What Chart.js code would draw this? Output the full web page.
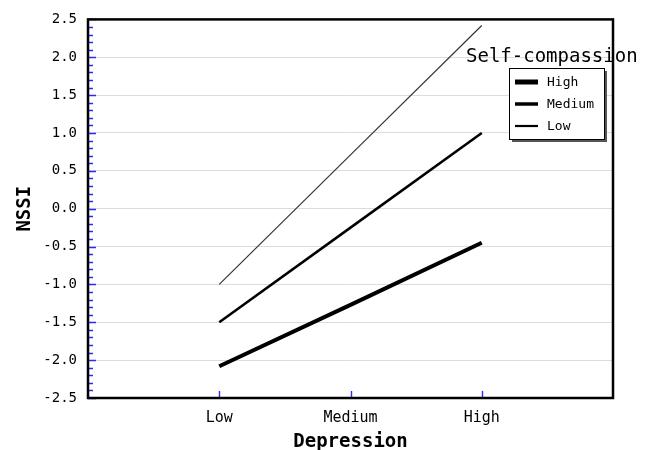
<!DOCTYPE html>
<html>
<head>
<meta charset="utf-8">
<script src="https://cdn.jsdelivr.net/npm/chart.js@4.4.1/dist/chart.umd.min.js"></script>
<style>
  html, body { margin: 0; padding: 0; background: #fff; }
  #wrap { width: 646px; height: 450px; }
</style>
</head>
<body>
<div id="wrap"><canvas id="myChart" width="646" height="450"></canvas></div>
<script>
'use strict';

// Depression levels (x axis)
const depression = ['Low', 'Medium', 'High'];

// NSSI for each self-compassion group
const highSC = [-2.08, -1.27, -0.45];
const mediumSC = [-1.50, -0.25, 1.00];
const lowSC = [-1.00, 0.71, 2.42];

// y axis range
const yMin = -2.5;
const yMax = 2.5;
const yStep = 0.5;
const yMinorStep = 0.1;

// legend
const legendTitle = 'Self-compassion';
const legendNames = ['High', 'Medium', 'Low'];

const mono = 'DejaVu Sans Mono';

// one empty slot on each side so Low..High sit inside the box like the original
const labels = [''].concat(depression, ['']);
function pad(arr){
  return [null].concat(arr, [null]);
}

// blue ticks, black frame and the boxed legend
const framePlugin = {
  id: 'frame',
  afterDatasetsDraw(chart){
    const ctx = chart.ctx;
    const a = chart.chartArea;
    const xs = chart.scales.x;
    const ys = chart.scales.y;
    ctx.save();

    // minor / major ticks on the y axis
    ctx.strokeStyle = '#2b2bff';
    ctx.lineWidth = 1.4;
    ctx.beginPath();
    const n = Math.round((yMax - yMin) / yMinorStep);
    for (let i = 0; i <= n; i++){
      const py = Math.round(ys.getPixelForValue(yMin + i * yMinorStep)) + 0.5;
      const len = (i % 5 === 0) ? 8 : 5;
      ctx.moveTo(a.left, py);
      ctx.lineTo(a.left + len, py);
    }
    // ticks on the x axis
    for (let i = 1; i <= depression.length; i++){
      const px = Math.round(xs.getPixelForValue(i)) + 0.5;
      ctx.moveTo(px, a.bottom);
      ctx.lineTo(px, a.bottom - 7);
    }
    ctx.stroke();

    // legend title (frame goes over it)
    ctx.fillStyle = '#000';
    ctx.font = '19px "' + mono + '"';
    ctx.textBaseline = 'middle';
    ctx.textAlign = 'left';
    ctx.fillText(legendTitle, 466, 57);

    // frame
    ctx.strokeStyle = '#000';
    ctx.lineWidth = 2.5;
    ctx.strokeRect(a.left, a.top, a.right - a.left, a.bottom - a.top);

    // legend box with shadow
    ctx.fillStyle = '#555';
    ctx.fillRect(512, 71, 95, 71);
    ctx.fillStyle = '#fff';
    ctx.fillRect(509, 68, 95, 71);
    ctx.strokeStyle = '#000';
    ctx.lineWidth = 1;
    ctx.strokeRect(509.5, 68.5, 95, 71);

    const sets = chart.data.datasets;
    ctx.font = '13px "' + mono + '"';
    for (let i = 0; i < legendNames.length; i++){
      const ly = 82 + i * 22;
      ctx.strokeStyle = '#000';
      ctx.lineWidth = sets[i].borderWidth + 1;
      ctx.beginPath();
      ctx.moveTo(515, ly);
      ctx.lineTo(538, ly);
      ctx.stroke();
      ctx.fillStyle = '#000';
      ctx.fillText(legendNames[i], 547, ly + 1);
    }
    ctx.restore();
  }
};

const ctx = document.getElementById('myChart').getContext('2d');
const chart = new Chart(ctx, {
  type: 'line',
  data: {
    labels: labels,
    datasets: [
      { label: legendNames[0], data: pad(highSC), borderColor: '#000', borderWidth: 4, pointRadius: 0, tension: 0 },
      { label: legendNames[1], data: pad(mediumSC), borderColor: '#000', borderWidth: 2.5, pointRadius: 0, tension: 0 },
      { label: legendNames[2], data: pad(lowSC), borderColor: '#333', borderWidth: 1.2, pointRadius: 0, tension: 0 }
    ]
  },
  options: {
    responsive: false,
    animation: false,
    layout: { padding: { top: 17, right: 33, left: 0, bottom: 0 } },
    plugins: {
      legend: { display: false },
      tooltip: { enabled: false }
    },
    scales: {
      x: {
        offset: false,
        grid: { display: false },
        border: { display: false },
        ticks: {
          autoSkip: false,
          maxRotation: 0,
          padding: 3,
          color: '#000',
          font: { family: mono, size: 15 }
        },
        title: {
          display: true,
          text: 'Depression',
          color: '#000',
          padding: { top: 0, bottom: -2 },
          font: { family: mono, size: 19, weight: 'bold', lineHeight: 1 }
        },
        afterFit(scale){ scale.height = 52; }
      },
      y: {
        min: yMin,
        max: yMax,
        grid: { color: '#dcdcdc', lineWidth: 1, drawTicks: false },
        border: { display: false },
        ticks: {
          stepSize: yStep,
          padding: 11,
          color: '#000',
          font: { family: mono, size: 14 },
          callback: v => v.toFixed(1)
        },
        title: {
          display: true,
          text: 'NSSI',
          color: '#000',
          padding: { top: 14, bottom: 0 },
          font: { family: mono, size: 19, weight: 'bold', lineHeight: 1.2 }
        },
        afterFit(scale){ scale.width = 88; }
      }
    }
  },
  plugins: [framePlugin]
});
</script>
</body>
</html>
